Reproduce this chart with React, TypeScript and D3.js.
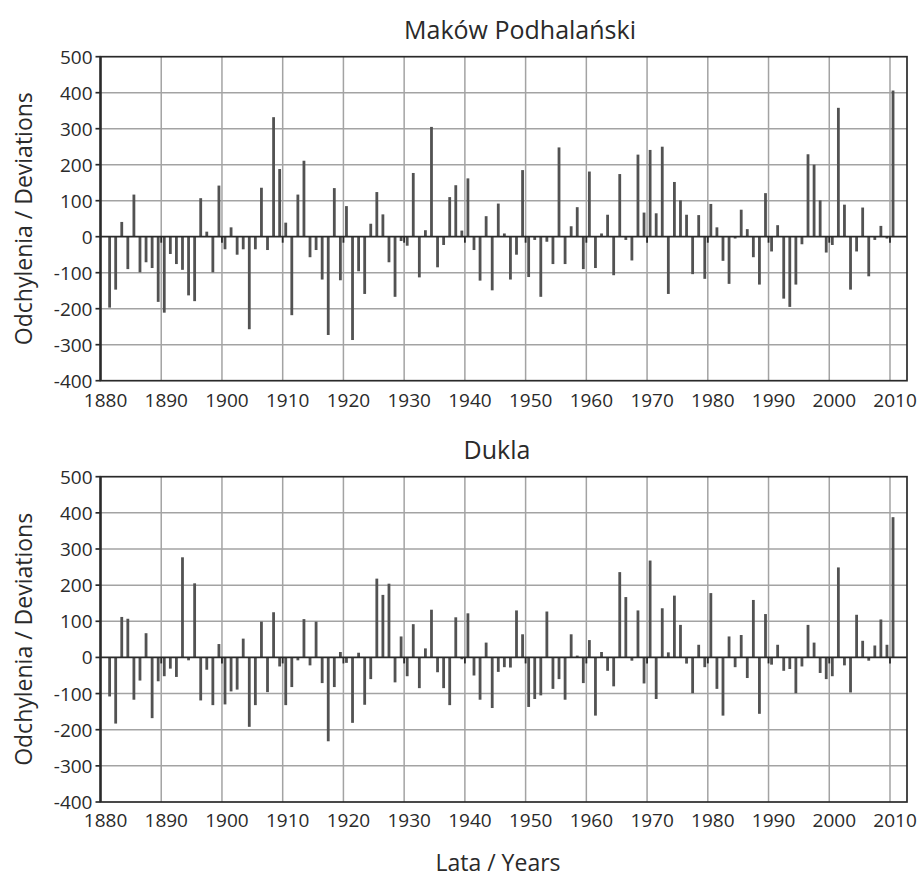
import { useEffect, useRef } from "react";
import * as d3 from "d3";

// years 1881..2010 (1880 has no value)
const firstYear = 1881;
const tickYears = [1880, 1890, 1900, 1910, 1920, 1930, 1940, 1950, 1960, 1970, 1980, 1990, 2000, 2010];
const yTicks = [500, 400, 300, 200, 100, 0, -100, -200, -300, -400];

const makowValues = [
  -197, -147, 41, -90, 117, -99, -71, -87, -181, -211,
  -48, -76, -92, -163, -179, 107, 14, -99, 142, -35,
  26, -50, -35, -257, -35, 136, -37, 332, 188, 39,
  -218, 117, 211, -57, -37, -119, -273, 135, -121, 85,
  -287, -96, -159, 36, 124, 62, -71, -167, -12, -25,
  177, -113, 18, 305, -85, -23, 110, 143, 17, 162,
  -37, -122, 57, -149, 92, 9, -119, -50, 185, -112,
  -9, -167, -14, -76, 248, -76, 29, 82, -90, 181,
  -87, 9, 61, -107, 174, -9, -66, 228, 67, 241,
  65, 250, -159, 152, 101, 61, -104, 60, -117, 91,
  26, -67, -131, -5, 75, 21, -57, -133, 121, -41,
  32, -172, -195, -133, -21, 229, 200, 101, -44, -23,
  358, 89, -147, -41, 81, -110, -9, 30, -5, 406,
];

const duklaValues = [
  -108, -183, 112, 107, -117, -64, 67, -168, -66, -52,
  -31, -54, 277, -8, 205, -119, -34, -132, 37, -130,
  -94, -89, 52, -192, -132, 99, -96, 125, -25, -132,
  -82, -8, 106, -22, 99, -71, -232, -82, 15, -15,
  -181, 13, -131, -60, 218, 173, 204, -69, 58, -52,
  92, -85, 25, 132, -41, -85, -132, 111, -5, 122,
  -50, -117, 41, -140, -40, -27, -28, 130, 64, -137,
  -115, -105, 127, -87, -60, -117, 64, 5, -71, 48,
  -161, 15, -37, -80, 236, 167, -9, 130, -72, 268,
  -115, 136, 14, 171, 90, -17, -99, 35, -27, 178,
  -87, -161, 58, -27, 62, -57, 159, -156, 120, -20,
  35, -37, -32, -99, -25, 90, 41, -43, -60, -52,
  249, -22, -97, 118, 46, -9, 33, 105, 35, 388,
];

const panels = [
  { title: "Maków Podhalański", values: makowValues, top: 56.7, bottom: 380.7, titleX: 520, titleY: 39, labelDy: 26 },
  { title: "Dukla", values: duklaValues, top: 476.7, bottom: 802, titleX: 497, titleY: 459, labelDy: 25 },
];

const font = "'Open Sans', 'Noto Sans', sans-serif";
const ink = "#2a2a2a";

const App = () => {
  const svgRef = useRef<SVGSVGElement>(null);

  useEffect(() => {
    const svg = d3.select(svgRef.current);
    svg.selectAll("*").remove();

    const left = 100.5;
    const right = 907;
    const x = d3.scaleLinear().domain([1879.5, 2012.3]).range([left, right]);
    const barW = 2.8;

    panels.forEach((p) => {
      const y = d3.scaleLinear().domain([-400, 500]).range([p.bottom, p.top]);
      const g = svg.append("g");
      const data = p.values.map((v, i) => ({ year: firstYear + i, value: v }));

      // horizontal grid
      g.append("g")
        .selectAll("line")
        .data(yTicks.filter((t) => t < 500 && t > -400 && t !== 0))
        .enter()
        .append("line")
        .attr("x1", left)
        .attr("x2", right)
        .attr("y1", (d) => y(d))
        .attr("y2", (d) => y(d))
        .attr("stroke", "#a3a3a3")
        .attr("stroke-width", 1.5);

      // vertical grid between decades
      const gridYears = tickYears.slice(1).map((t) => t - 0.5);
      g.append("g")
        .selectAll("line")
        .data(gridYears)
        .enter()
        .append("line")
        .attr("x1", (d) => x(d))
        .attr("x2", (d) => x(d))
        .attr("y1", p.top)
        .attr("y2", p.bottom)
        .attr("stroke", "#a3a3a3")
        .attr("stroke-width", 1.5);

      // bars
      g.append("g")
        .selectAll("rect")
        .data(data)
        .enter()
        .append("rect")
        .attr("x", (d) => x(d.year) - barW / 2)
        .attr("y", (d) => Math.min(y(d.value), y(0)))
        .attr("width", barW)
        .attr("height", (d) => Math.abs(y(d.value) - y(0)))
        .attr("fill", "#525252");

      // zero axis with ticks
      g.append("line")
        .attr("x1", left)
        .attr("x2", right)
        .attr("y1", y(0))
        .attr("y2", y(0))
        .attr("stroke", ink)
        .attr("stroke-width", 1.8);
      g.append("g")
        .selectAll("line")
        .data(gridYears)
        .enter()
        .append("line")
        .attr("x1", (d) => x(d))
        .attr("x2", (d) => x(d))
        .attr("y1", y(0))
        .attr("y2", y(0) + 6)
        .attr("stroke", ink)
        .attr("stroke-width", 1.8);

      // frame
      g.append("rect")
        .attr("x", left)
        .attr("y", p.top)
        .attr("width", right - left)
        .attr("height", p.bottom - p.top)
        .attr("fill", "none")
        .attr("stroke", ink)
        .attr("stroke-width", 1.7);
      g.append("line")
        .attr("x1", left)
        .attr("x2", left)
        .attr("y1", p.top)
        .attr("y2", p.bottom)
        .attr("stroke", ink)
        .attr("stroke-width", 2.4);

      // y ticks + labels
      const yt = g.append("g").selectAll("g").data(yTicks).enter().append("g");
      yt.append("line")
        .attr("x1", left - 5)
        .attr("x2", left)
        .attr("y1", (d) => y(d))
        .attr("y2", (d) => y(d))
        .attr("stroke", ink)
        .attr("stroke-width", 1.7);
      yt.append("text")
        .attr("x", left - 8)
        .attr("y", (d) => y(d) + 7)
        .attr("text-anchor", "end")
        .attr("font-family", font)
        .attr("font-size", "19px")
        .attr("fill", ink)
        .text((d) => d);

      // x labels
      g.append("g")
        .selectAll("text")
        .data(tickYears)
        .enter()
        .append("text")
        .attr("x", (d) => x(d) + 2)
        .attr("y", p.bottom + p.labelDy)
        .attr("text-anchor", "middle")
        .attr("font-family", font)
        .attr("font-size", "19px")
        .attr("fill", ink)
        .text((d) => d);

      // title
      g.append("text")
        .attr("x", p.titleX)
        .attr("y", p.titleY)
        .attr("text-anchor", "middle")
        .attr("font-family", font)
        .attr("font-size", "25px")
        .attr("fill", ink)
        .text(p.title);

      // y axis title
      g.append("text")
        .attr("transform", `translate(32,${(p.top + p.bottom) / 2}) rotate(-90)`)
        .attr("text-anchor", "middle")
        .attr("font-family", font)
        .attr("font-size", "23px")
        .attr("fill", ink)
        .text("Odchylenia / Deviations");
    });

    svg.append("text")
      .attr("x", 498)
      .attr("y", 871)
      .attr("text-anchor", "middle")
      .attr("font-family", font)
      .attr("font-size", "23px")
      .attr("fill", ink)
      .text("Lata / Years");
  }, []);

  return (
    <svg
      ref={svgRef}
      width={922}
      height={880}
      style={{ position: "absolute", left: 0, top: 0, background: "#fff" }}
    ></svg>
  );
};

export default App;
